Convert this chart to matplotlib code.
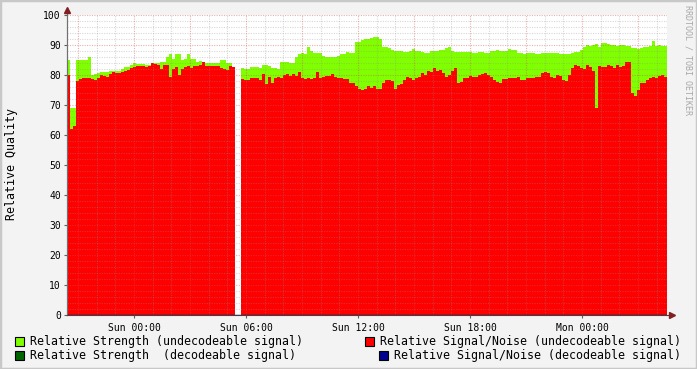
import numpy as np
import matplotlib.pyplot as plt
from matplotlib.patches import Rectangle

plt.rcParams['font.family'] = 'DejaVu Sans Mono'

nan = np.nan

# Relative Strength (undecodeable), one value every ~9.6 min
strength = [
    85, 69, 69, 85, 85, 85, 85, 86, 80, 80.3,
    80.6, 81, 81, 81, 81.4, 81.4, 81.4, 81.5, 82, 82.6,
    82.6, 83.3, 84.1, 83.6, 83.7, 83.8, 83.5, 83.5, 84.1, 84,
    84, 84.3, 84.5, 86, 87, 85.5, 87, 87, 85, 85.5,
    87, 85.5, 85.2, 84.5, 84.8, 84, 84, 84, 84, 84,
    84, 85, 85, 84, 84, 82.8, nan, nan, 82.5, 82,
    81.9, 82.6, 82.6, 82.6, 82.2, 83.3, 83.3, 83, 82.5, 82.2,
    82, 84.4, 84.4, 84.2, 84.1, 84.1, 86, 87, 87.2, 87,
    89.5, 88, 87.2, 87.5, 87.4, 86.5, 86.1, 85.9, 85.9, 86.1,
    86.5, 87, 87, 87.8, 87.5, 87.2, 91, 91.1, 91.7, 92,
    92, 92.2, 92.8, 92.6, 92, 89.4, 89.2, 89, 88.5, 88,
    88.1, 88.1, 87.8, 87.8, 88.1, 88.6, 88.1, 88.1, 87.8, 87.5,
    87.2, 88.1, 88.1, 88.1, 88.3, 88.3, 88.9, 89.2, 88.1, 87.8,
    87.8, 87.8, 87.8, 87.8, 87.8, 87.4, 87.4, 87.8, 87.6, 87.4,
    87.4, 88, 88.1, 88.3, 88, 88.1, 88.1, 88.6, 88.4, 88.3,
    87.4, 87.2, 87, 87.2, 87.2, 87.2, 87, 87, 87.4, 87.2,
    87.4, 87.2, 87.2, 87.2, 87, 87, 87, 87, 87.4, 87.6,
    87.8, 88.3, 89.5, 90, 89.7, 90, 90.3, 89.4, 90.8, 90.8,
    90.5, 90, 90, 89.7, 90, 90, 89.7, 89.7, 89, 88.9,
    88.6, 88.9, 89.2, 89.4, 89.7, 91.5, 89.7, 90, 89.8, 89.7,
]

# Relative Signal/Noise (undecodeable)
snr = [
    80, 62, 63, 78, 78.8, 79, 79.1, 79.1, 78.7, 78.5,
    79, 80, 79.8, 79.5, 80.5, 81.1, 80.8, 80.8, 81.1, 81.5,
    81.7, 82.2, 82.8, 83, 83, 83, 82.8, 83, 83.9, 83.8,
    83.5, 82, 83.3, 83.3, 79.5, 82, 82.8, 80, 82, 82.6,
    83, 82.2, 83, 83, 83.3, 84.5, 83, 83, 83, 83,
    83, 82.5, 82, 81.8, 83, 82.6, nan, nan, 78.6, 78.3,
    78.5, 79, 79.1, 79, 78.5, 80.5, 77, 79.5, 77.4, 79.1,
    79.4, 79.1, 80, 80.2, 79.8, 80.5, 79.8, 81.1, 78.9, 78.6,
    79, 78.7, 79, 81, 78.9, 79.4, 79.8, 79.8, 80.2, 79.2,
    79, 79, 78.8, 78.6, 77.5, 77.2, 76.5, 75.2, 75, 75.5,
    76.5, 75.6, 76.5, 75.3, 75.5, 77.2, 78.3, 78.3, 78, 75.5,
    76.7, 77, 78.5, 79.4, 79, 78.5, 79, 79.4, 80.6, 80,
    81.5, 81, 82.2, 81.5, 81.7, 80.6, 79.4, 80, 81.5, 82.5,
    77.2, 77.8, 78.9, 79, 79.8, 79.4, 79.5, 80, 80.2, 80.6,
    80, 79.5, 78.3, 77.8, 77.5, 78.6, 78.6, 79.1, 79, 78.9,
    79.5, 78.5, 78.3, 78.9, 78.9, 79, 79.4, 79.2, 80.6, 81,
    80.6, 79.5, 78.9, 80, 79.6, 78.5, 78, 80, 82.5, 83.3,
    83, 82.2, 82, 83.3, 82.8, 81.5, 69, 83, 82.8, 82.8,
    83.3, 83, 82.2, 83.3, 82.8, 83, 84.5, 84.4, 74, 73,
    75, 77.2, 77.5, 78.3, 78.9, 79.5, 78.9, 79.7, 80, 79.4,
]

t_start = -3.59    # hours from Sun 00:00
t_step = 0.1607    # hours per sample

tick_hours = [0, 6, 12, 18, 24]
tick_labels = ['Sun 00:00', 'Sun 06:00', 'Sun 12:00', 'Sun 18:00', 'Mon 00:00']

legend_rows = [
    ('#80ff00', 'Relative Strength (undecodeable signal)'),
    ('#006400', 'Relative Strength  (decodeable signal)'),
    ('#ff0000', 'Relative Signal/Noise (undecodeable signal)'),
    ('#000090', 'Relative Signal/Noise (decodeable signal)'),
]

W, H = 697, 369
def fx(px):
    return px / W
def fy(py):
    return 1 - py / H

strength = np.array(strength, dtype=float)
snr = np.array(snr, dtype=float)
edges = t_start + t_step * np.arange(len(snr) + 1)


def draw_steps(ax, vals, color, z):
    # split on missing samples so the gap stays white
    ok = ~np.isnan(vals)
    i = 0
    while i < len(vals):
        if not ok[i]:
            i += 1
            continue
        j = i
        while j < len(vals) and ok[j]:
            j += 1
        ax.stairs(vals[i:j], edges[i:j + 1], fill=True, baseline=0,
                  color=color, lw=0, zorder=z)
        i = j


fig = plt.figure(figsize=(W / 100, H / 100), dpi=100, facecolor='#f3f3f3')
ax = fig.add_axes([fx(67), fy(315), 600 / W, 300 / H])
ax.set_facecolor('white')
ax.set_xlim(edges[0], edges[-1])
ax.set_ylim(0, 100)

draw_steps(ax, strength, '#80ff00', 2)
draw_steps(ax, snr, '#ff0000', 3)

# dotted grid on top of the areas
for v in np.arange(2, 100, 2):
    if v % 10:
        ax.axhline(v, color='#909090', alpha=0.35, lw=0.8, ls=(0, (1, 1.2)), zorder=4)
for v in np.arange(10, 101, 10):
    ax.axhline(v, color='#d05050', alpha=0.45, lw=0.8, ls=(0, (1, 1.2)), zorder=4)
for h in np.arange(-3, 29, 1):
    if h % 3:
        ax.axvline(h, color='#909090', alpha=0.35, lw=0.8, ls=(0, (1, 1.2)), zorder=4)
for h in np.arange(-3, 29, 3):
    ax.axvline(h, color='#d05050', alpha=0.45, lw=0.8, ls=(0, (1, 1.2)), zorder=4)

for s in ['top', 'right']:
    ax.spines[s].set_visible(False)
ax.spines['left'].set_color('#707070')
ax.spines['bottom'].set_visible(False)
ax.axhline(0, color='#000080', lw=1, zorder=5)

ax.set_yticks(np.arange(0, 101, 10))
ax.set_yticklabels([str(v) for v in range(0, 101, 10)])
ax.set_xticks(tick_hours)
ax.set_xticklabels(tick_labels)
ax.tick_params(axis='both', labelsize=7, length=2, width=0.8, color='#606060', pad=2.5)
ax.tick_params(axis='x', pad=3.5)

# axis arrows
fig.add_artist(plt.Line2D([fx(67), fx(67)], [fy(315), fy(11)], color='#707070', lw=0.8))
fig.add_artist(plt.Line2D([fx(67), fx(671)], [fy(315), fy(315)], color='#404040', lw=0.8))
fig.add_artist(plt.Line2D([fx(67)], [fy(10)], marker='^', ms=4, color='#802020', lw=0))
fig.add_artist(plt.Line2D([fx(672)], [fy(315)], marker='>', ms=4, color='#802020', lw=0))

fig.text(fx(12), fy(164), 'Relative Quality', rotation=90, fontsize=8.4,
         ha='center', va='center', color='black')
fig.text(fx(688), fy(60), 'RRDTOOL / TOBI OETIKER', rotation=270, fontsize=6,
         ha='center', va='center', color='#a8a8a8')

# legend
sq_pos = [(15, 341), (15, 355.5), (365, 341), (379, 355.5)]
for (c, label), (sx, sy) in zip(legend_rows, sq_pos):
    fig.add_artist(Rectangle((fx(sx), fy(sy + 4.5)), 9 / W, 9 / H,
                             facecolor=c, edgecolor='black', lw=0.8))
    fig.text(fx(sx + 15), fy(sy), label, fontsize=8.4, ha='left', va='center')

# frame around the image
fig.add_artist(Rectangle((0, 0), 1, 1, fill=False, edgecolor='#c8c8c8', lw=2.5,
                         transform=fig.transFigure))

fig.savefig('out.png', dpi=100, facecolor=fig.get_facecolor())
